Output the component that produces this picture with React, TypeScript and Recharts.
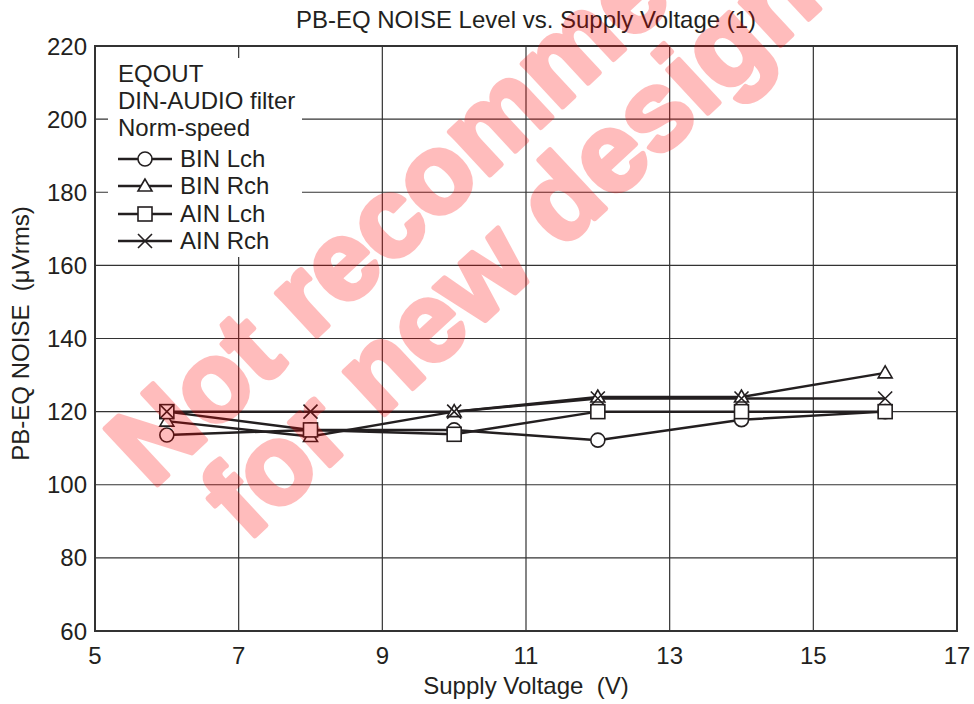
import { LineChart, Line, XAxis, YAxis, CartesianGrid, Legend, ReferenceArea } from "recharts";

const voltages = [6, 8, 10, 12, 14, 16];
const binLch = [113.6, 115, 115, 112.2, 117.8, 120];
const binRch = [117.4, 113.2, 120, 124, 124, 130.6];
const ainLch = [120, 115, 113.8, 120, 120, 120];
const ainRch = [120, 120, 120, 123.6, 123.6, 123.6];

const xTicks = [5, 7, 9, 11, 13, 15, 17];
const yTicks = [60, 80, 100, 120, 140, 160, 180, 200, 220];
const notes = ["EQOUT", "DIN-AUDIO filter", "Norm-speed"];

const series = [
  { key: "binL", name: "BIN Lch", shape: "circle", values: binLch },
  { key: "binR", name: "BIN Rch", shape: "triangle", values: binRch },
  { key: "ainL", name: "AIN Lch", shape: "square", values: ainLch },
  { key: "ainR", name: "AIN Rch", shape: "cross", values: ainRch },
];

const data = voltages.map((v, i) => {
  const row: Record<string, number> = { v };
  series.forEach((s) => (row[s.key] = s.values[i]));
  return row;
});

const INK = "#231f20";
const FONT = '"Liberation Sans", Arial, sans-serif';

const Marker = ({ cx, cy, shape }: { cx: number; cy: number; shape: string }) => {
  if (cx == null || cy == null) return null;
  const sw = 1.6;
  if (shape === "circle")
    return <circle cx={cx} cy={cy} r={7} fill="#fff" stroke={INK} strokeWidth={sw} />;
  if (shape === "triangle")
    return (
      <polygon
        points={`${cx},${cy - 7} ${cx - 7},${cy + 5} ${cx + 7},${cy + 5}`}
        fill="#fff"
        stroke={INK}
        strokeWidth={sw}
      />
    );
  if (shape === "square")
    return <rect x={cx - 7} y={cy - 7} width={14} height={14} fill="#fff" stroke={INK} strokeWidth={sw} />;
  return (
    <path
      d={`M${cx - 7},${cy - 7}L${cx + 7},${cy + 7}M${cx + 7},${cy - 7}L${cx - 7},${cy + 7}`}
      stroke={INK}
      strokeWidth={sw}
      fill="none"
    />
  );
};

const LegendBox = () => (
  <div style={{ fontFamily: FONT, fontSize: 24, color: INK, padding: "2px 0 0 10px" }}>
    {notes.map((n) => (
      <div key={n} style={{ lineHeight: "27px", whiteSpace: "nowrap" }}>{n}</div>
    ))}
    <div style={{ marginTop: 4 }}>
      {series.map((s) => (
        <div key={s.key} style={{ display: "flex", alignItems: "center", height: 27.5 }}>
          <svg width={56} height={20} style={{ marginRight: 6 }}>
            <line x1={0} y1={10} x2={54} y2={10} stroke={INK} strokeWidth={2.5} />
            <Marker cx={27} cy={10} shape={s.shape} />
          </svg>
          <span style={{ whiteSpace: "nowrap" }}>{s.name}</span>
        </div>
      ))}
    </div>
  </div>
);

export default function App() {
  return (
    <div style={{ position: "absolute", left: 0, top: 0, width: 974, height: 704, background: "#fff", fontFamily: FONT }}>
      <div
        style={{
          position: "absolute",
          left: 95,
          width: 862,
          top: 8,
          textAlign: "center",
          fontSize: 24,
          lineHeight: "24px",
          color: INK,
        }}
      >
        PB-EQ NOISE Level vs. Supply Voltage (1)
      </div>
      <LineChart width={974} height={704} data={data} margin={{ top: 46, right: 17, bottom: 0, left: 0 }}>
        <CartesianGrid stroke="#333" strokeWidth={1.2} vertical horizontal />
        <XAxis
          dataKey="v"
          type="number"
          domain={[5, 17]}
          ticks={xTicks}
          height={73}
          tickLine={false}
          tickMargin={10}
          axisLine={{ stroke: "#333", strokeWidth: 2 }}
          tick={{ fill: INK, fontSize: 24, fontFamily: FONT }}
          label={{
            value: "Supply Voltage \u00a0(V)",
            position: "insideBottom",
            offset: 10,
            style: { fill: INK, fontSize: 24, fontFamily: FONT },
          }}
        />
        <YAxis
          type="number"
          domain={[60, 220]}
          ticks={yTicks}
          width={95}
          tickLine={false}
          axisLine={{ stroke: "#333", strokeWidth: 2 }}
          tick={{ fill: INK, fontSize: 24, fontFamily: FONT }}
          label={{
            value: "PB-EQ NOISE \u00a0(\u03bcVrms)",
            angle: -90,
            position: "insideLeft",
            offset: 20,
            dy: -5,
            style: { fill: INK, fontSize: 24, fontFamily: FONT, textAnchor: "middle" },
          }}
        />
        <ReferenceArea x1={5} x2={17} y1={60} y2={220} fill="none" stroke="#333" strokeWidth={2} ifOverflow="visible" />
        {series.map((s) => (
          <Line
            key={s.key}
            dataKey={s.key}
            name={s.name}
            type="linear"
            stroke={INK}
            strokeWidth={2.5}
            isAnimationActive={false}
            dot={(p: any) => <Marker key={`${s.key}-${p.index}`} cx={p.cx} cy={p.cy} shape={s.shape} />}
          />
        ))}
        <Legend
          layout="vertical"
          align="center"
          verticalAlign="middle"
          content={() => <LegendBox />}
          wrapperStyle={{ left: 108, top: 58, width: 194, height: 199, background: "#fff" }}
        />
      </LineChart>
      <svg width={974} height={704} style={{ position: "absolute", left: 0, top: 0, pointerEvents: "none" }}>
        <g
          opacity={0.26}
          fill="#ff0000"
          stroke="#ff0000"
          strokeWidth={5}
          strokeLinejoin="round"
          fontFamily={FONT}
          fontWeight="bold"
          fontSize={112}
        >
          <text x={152} y={490} transform="rotate(-43 152 490)">Not recommended</text>
          <text x={247} y={543} transform="rotate(-43 247 543)">for new design</text>
        </g>
      </svg>
    </div>
  );
}
